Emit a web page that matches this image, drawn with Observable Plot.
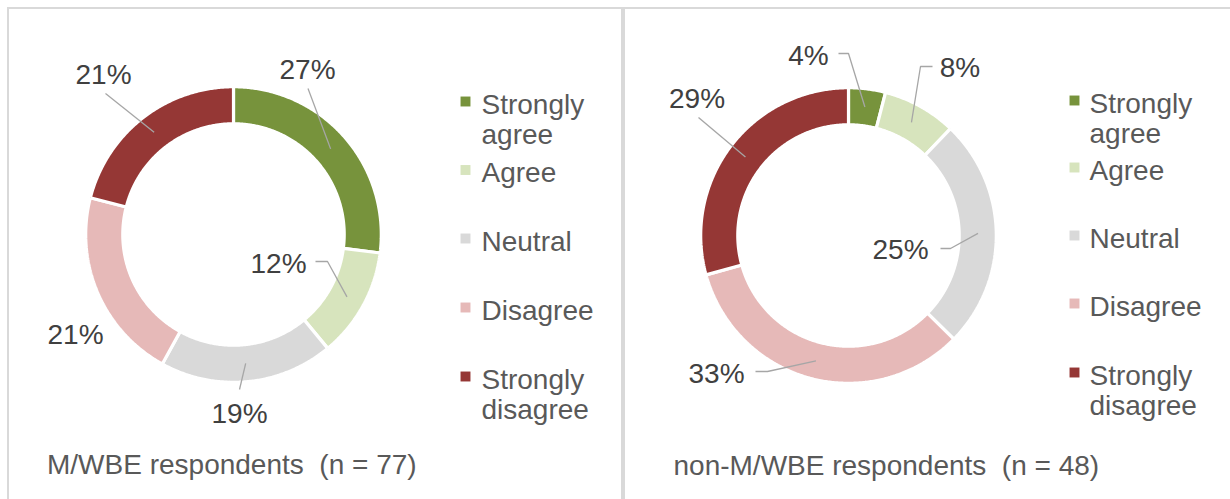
<!DOCTYPE html>
<html><head><meta charset="utf-8">
<script src="https://cdn.jsdelivr.net/npm/d3@7"></script>
<script src="https://cdn.jsdelivr.net/npm/@observablehq/plot@0.6"></script>
<style>
html,body{margin:0;padding:0;background:#fff;}
#wrap{position:relative;width:1230px;height:499px;overflow:hidden;font-family:"Liberation Sans",Arial,sans-serif;}
#wrap svg{position:absolute;left:0;top:0;}
.ln{position:absolute;background:#d9d9d9;}
</style></head><body><div id="wrap"></div>
<script>
// ---- data ----
const categories = ["Strongly agree", "Agree", "Neutral", "Disagree", "Strongly disagree"];
const colors = ["#77933C", "#D7E4BD", "#D9D9D9", "#E6B9B8", "#953735"];
const mwbeValues = [27, 12, 19, 21, 21];
const nonMwbeValues = [4, 8, 25, 33, 29];
const groupNames = ["M/WBE respondents", "non-M/WBE respondents"];
const groupN = [77, 48];

// ---- layout (pixels) ----
const R_OUT = 147.8, R_IN = 110.7, R_MID = 129.5;
const panels = [
  {
    values: mwbeValues, cx: 233, cy: 234,
    sqX: 465, textX: 481, legendB: [112, 180.5, 249, 318, 387],
    capX: 46.5, capB: 473,
    // label offset from centre (x centre, baseline) and leader waypoints
    labels: [
      {dx: 74, dy: -156, path: [[74.5, -146]]},
      {dx: 45, dy: 38, path: [[82, 27], [94, 27]]},
      {dx: 6, dy: 188, path: [[6, 155]]},
      {dx: -158, dy: 109, path: null},
      {dx: -130, dy: -151, path: [[-128, -141]]}
    ]
  },
  {
    values: nonMwbeValues, cx: 848, cy: 235,
    sqX: 1074, textX: 1089, legendB: [111, 178, 246, 314, 383],
    capX: 673, capB: 474,
    labels: [
      {dx: -40, dy: -171, path: [[-10, -182], [0, -182]]},
      {dx: 111.5, dy: -159, path: [[84, -169], [72, -169]]},
      {dx: 52, dy: 23, path: [[92, 13], [102, 13]]},
      {dx: -132, dy: 147, path: [[-93, 136], [-81, 136]]},
      {dx: -151.5, dy: -128, path: [[-150, -118]]}
    ]
  }
];

const ringRows = [], leaderRows = [], labelRows = [], legendRows = [], captionRows = [];
panels.forEach((p, pi) => {
  const total = d3.sum(p.values);
  let a = 0;
  const step = Math.PI / 360;
  p.values.forEach((v, i) => {
    const a0 = a, a1 = a + v / total * 2 * Math.PI;
    a = a1;
    const key = pi + "-" + i;
    const n = Math.max(2, Math.ceil((a1 - a0) / step));
    const pts = [];
    for (let k = 0; k <= n; k++) { const t = a0 + (a1 - a0) * k / n; pts.push([p.cx + R_OUT * Math.sin(t), p.cy - R_OUT * Math.cos(t)]); }
    for (let k = n; k >= 0; k--) { const t = a0 + (a1 - a0) * k / n; pts.push([p.cx + R_IN * Math.sin(t), p.cy - R_IN * Math.cos(t)]); }
    pts.push(pts[0]);
    pts.forEach(([x, y]) => ringRows.push({key, cat: categories[i], x, y}));
    const L = p.labels[i];
    labelRows.push({x: p.cx + L.dx, y: p.cy + L.dy, text: v + "%"});
    if (L.path) {
      const am = (a0 + a1) / 2;
      L.path.forEach(([dx, dy]) => leaderRows.push({key, x: p.cx + dx, y: p.cy + dy}));
      leaderRows.push({key, x: p.cx + R_MID * Math.sin(am), y: p.cy - R_MID * Math.cos(am)});
    }
    legendRows.push({cat: categories[i], sx: p.sqX, tx: p.textX, b: p.legendB[i]});
  });
  captionRows.push({x: p.capX, y: p.capB, text: groupNames[pi] + "\u00a0 (n = " + groupN[pi] + ")"});
});

const FS = 28;
const chart = Plot.plot({
  width: 1230, height: 499, margin: 0,
  x: {domain: [0, 1230], range: [0, 1230], axis: null},
  y: {domain: [0, 499], range: [0, 499], axis: null},
  color: {domain: categories, range: colors},
  style: {background: "transparent", fontFamily: "'Liberation Sans', Arial, sans-serif"},
  marks: [
    Plot.line(ringRows, {x: "x", y: "y", z: "key", fill: "cat", stroke: "white", strokeWidth: 3.2, strokeLinejoin: "miter", strokeLinecap: "butt", curve: "linear"}),
    Plot.line(leaderRows, {x: "x", y: "y", z: "key", stroke: "#a6a6a6", strokeWidth: 1.3, strokeLinejoin: "miter", strokeLinecap: "butt"}),
    Plot.text(labelRows, {x: "x", y: "y", text: "text", fontSize: FS, fill: "#404040", textAnchor: "middle", lineAnchor: "bottom"}),
    Plot.dot(legendRows, {x: "sx", y: d => d.b - 11, symbol: "square", r: 5.6, fill: "cat", stroke: null}),
    Plot.text(legendRows, {x: "tx", y: d => d.b - 0.71 * FS, text: "cat", fontSize: FS, fill: "#595959", textAnchor: "start", lineAnchor: "top", lineWidth: 4.6, lineHeight: 30 / FS}),
    Plot.text(captionRows, {x: "x", y: "y", text: "text", fontSize: FS, fill: "#595959", textAnchor: "start", lineAnchor: "bottom"})
  ]
});
const wrap = document.getElementById("wrap");
wrap.appendChild(chart);
[[7, 7, 1223, 1.5], [7, 7, 2, 492], [621, 7, 4, 492]].forEach(([l, t, w, h]) => {
  const d = document.createElement("div");
  d.className = "ln";
  d.style.left = l + "px"; d.style.top = t + "px"; d.style.width = w + "px"; d.style.height = h + "px";
  wrap.appendChild(d);
});
</script></body></html>
